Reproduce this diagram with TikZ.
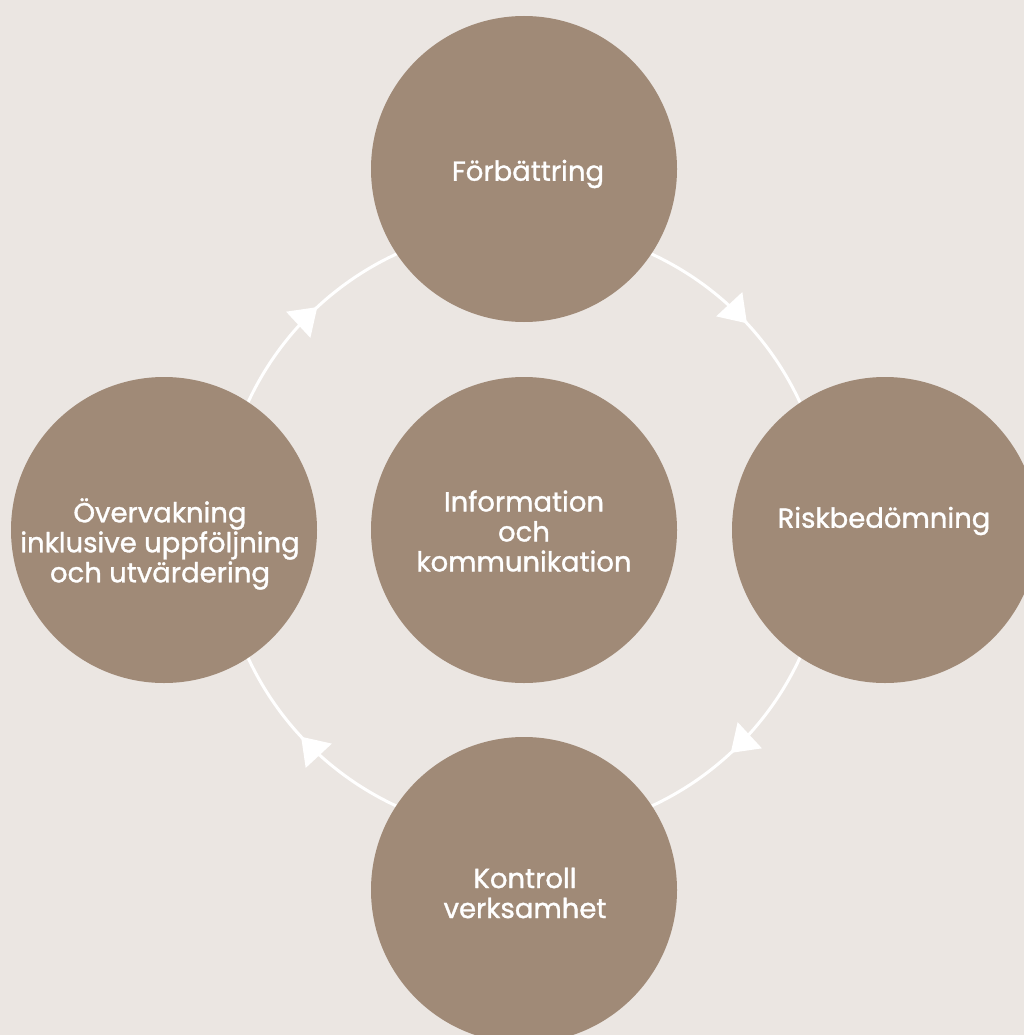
\documentclass[tikz,border=0pt]{standalone}
\usepackage{fontspec}
\setmainfont{Poppins}[FakeBold=1.2]
\usetikzlibrary{arrows.meta,decorations.markings}
\definecolor{bgc}{HTML}{EBE6E2}
\definecolor{circc}{HTML}{A08A77}
\tikzset{
  bubble/.style={circle,fill=circc,minimum size=306pt,inner sep=0pt},
  lbl/.style={text=white,align=center,font=\fontsize{27.5}{30}\selectfont},
  ring/.style={draw=white,line width=3pt,
    postaction={decorate,decoration={markings,
      mark=at position 0.131 with {\arrow{Triangle[length=26pt,width=35pt,color=white]}},
      mark=at position 0.381 with {\arrow{Triangle[length=26pt,width=35pt,color=white]}},
      mark=at position 0.631 with {\arrow{Triangle[length=26pt,width=35pt,color=white]}},
      mark=at position 0.881 with {\arrow{Triangle[length=26pt,width=35pt,color=white]}}}}}
}
\begin{document}
\begin{tikzpicture}[x=1pt,y=-1pt]
\useasboundingbox (0,0) rectangle (1024,1035);
\clip (0,0) rectangle (1024,1035);
\fill[bgc] (0,0) rectangle (1024,1035);
\coordinate (c) at (524,530);
\path[ring] (c) ++(0:304) arc[start angle=0,end angle=360,radius=304];
\node[bubble] (top) at (524,169) {};
\node[bubble] (right) at (885,530) {};
\node[bubble] (bottom) at (524,890) {};
\node[bubble] (left) at (164,530) {};
\node[bubble] (mid) at (524,530) {};
\node[lbl] (ttop) at (528,174) {Förbättring};
\node[lbl] (tright) at (884,521) {Riskbedömning};
\node[lbl] (tbottom) at (525,893) {Kontroll\\verksamhet};
\node[lbl] (tleft) at (160,544) {Övervakning\\inklusive uppföljning\\och utvärdering};
\node[lbl] (tmid) at (524,531) {Information\\och\\kommunikation};
\end{tikzpicture}
\end{document}
